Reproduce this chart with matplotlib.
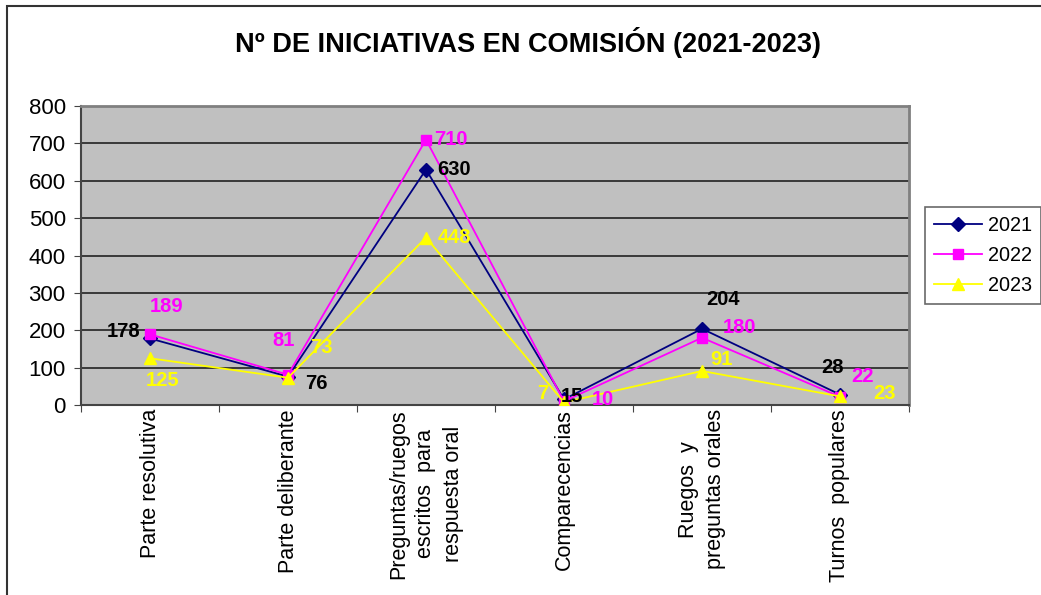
import matplotlib
matplotlib.use("Agg")
from matplotlib import pyplot as plt
from matplotlib.patches import Rectangle
import numpy as np

plt.rcParams['font.family'] = ['Liberation Sans', 'DejaVu Sans']

categories = ["Parte resolutiva", "Parte deliberante",
              "Preguntas/ruegos\nescritos  para\nrespuesta oral",
              "Comparecencias", "Ruegos  y\npreguntas orales", "Turnos  populares"]
years = ["2021", "2022", "2023"]
v2021 = [178, 76, 630, 15, 204, 28]
v2022 = [189, 81, 710, 10, 180, 22]
v2023 = [125, 73, 448, 7, 91, 23]

# label offsets in pixels (dx, dy) per point, like the excel layout
off2021 = [(-26, 7), (28, -7), (28, 0), (8, 3), (21, 29), (-8, 27)]
off2022 = [(17, 28), (-4, 34), (25, 0), (39, 2), (37, 10), (23, 20)]
off2023 = [(13, -22), (33, 30), (28, 0), (-21, 9), (19, 11), (45, 3)]

series = [
    (v2021, "#000080", "D", 7, "black", off2021),
    (v2022, "#FF00FF", "s", 6.5, "#FF00FF", off2022),
    (v2023, "#FFFF00", "^", 8, "#FFFF00", off2023),
]

fig = plt.figure(figsize=(10.41, 5.95), dpi=100)
fig.patches.append(Rectangle((7 / 1041, -0.1), 1.2, 1 - 6 / 595 + 0.1,
                             transform=fig.transFigure, fill=False,
                             edgecolor="#333333", linewidth=1.5))
ax = fig.add_axes([81 / 1041, 1 - 405 / 595, (909 - 81) / 1041, (405 - 106) / 595])
ax.set_facecolor("#C0C0C0")

x = np.arange(len(categories)) + 0.5
for (vals, col, mk, ms, lc, offs), yr in zip(series, years):
    ax.plot(x, vals, color=col, marker=mk, markersize=ms, linewidth=1.3,
            label=yr, zorder=3)
    for xi, v, o in zip(x, vals, offs):
        ax.annotate(str(v), (xi, v), xytext=o, textcoords="offset pixels",
                    ha="center", va="center", fontsize=14.5, fontweight="bold",
                    color=lc, zorder=4, annotation_clip=False)

ax.set_xlim(0, len(categories))
ax.set_ylim(0, 800)
ax.set_yticks(range(0, 801, 100))
ax.yaxis.grid(True, color="#222222", linewidth=1.2)
ax.set_axisbelow(True)
ax.set_xticks(np.arange(len(categories) + 1))
ax.set_xticklabels([])
ax.set_xticks(x, minor=True)
ax.set_xticklabels(categories, minor=True, rotation=90, fontsize=15.5,
                   multialignment="center", va="top", ha="center",
                   linespacing=1.4)
ax.tick_params(axis="x", which="minor", length=0, pad=3)
ax.tick_params(axis="x", which="major", length=5, color="#444444")
ax.tick_params(axis="y", length=5, color="#444444", labelsize=16, pad=6)
for s in ["left", "bottom"]:
    ax.spines[s].set_color("#444444")
    ax.spines[s].set_linewidth(1.5)
for s in ["top", "right"]:
    ax.spines[s].set_color("#808080")
    ax.spines[s].set_linewidth(2)

fig.text(528 / 1041, 1 - 42 / 595, "Nº DE INICIATIVAS EN COMISIÓN (2021-2023)",
         ha="center", va="center", fontsize=19.5, fontweight="bold")

leg = fig.legend(loc="upper left", bbox_to_anchor=(925 / 1041, 1 - 207 / 595),
                 fontsize=14.3, frameon=True, fancybox=False, borderpad=0.45,
                 handlelength=2.4, handletextpad=0.3, labelspacing=0.55,
                 borderaxespad=0)
leg.get_frame().set_edgecolor("#444444")
leg.get_frame().set_linewidth(1.2)

fig.savefig("out.png", dpi=100)
